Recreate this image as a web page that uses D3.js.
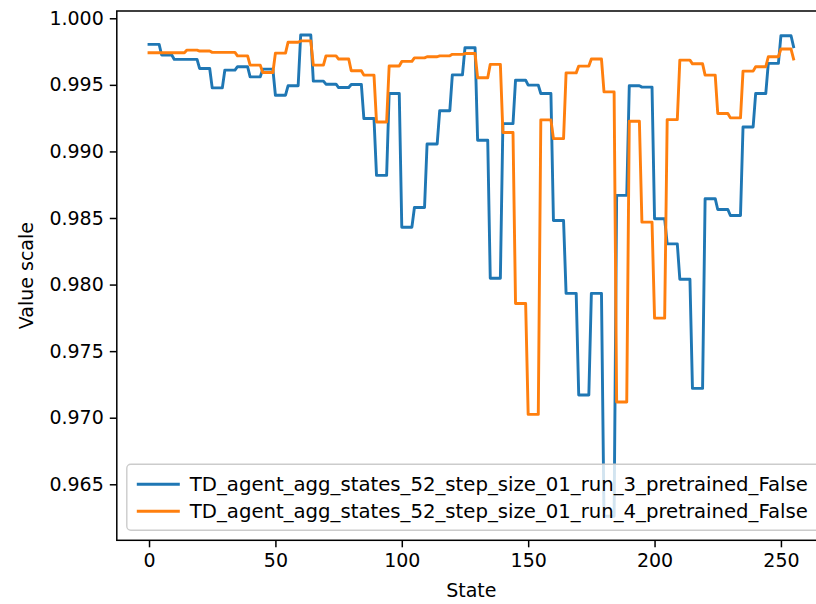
<!DOCTYPE html>
<html>
<head>
<meta charset="utf-8">
<script src="https://cdn.jsdelivr.net/npm/d3@7"></script>
<style>
  body { margin: 0; background: #fff; overflow: hidden; }
  svg text { font-family: "DejaVu Sans", sans-serif; fill: #000; }
</style>
</head>
<body>
<svg id="chart" width="816" height="604"></svg>
<script>
// Value scale per aggregated state (52 aggregated states, 5 consecutive states each; the last holds state 255 only)
const run3Values = [
  0.99804, 0.99724, 0.99691, 0.99691, 0.99623, 0.99477, 0.99611, 0.99636, 0.99560, 0.99618,
  0.99422, 0.99493, 0.99874, 0.99528, 0.99505, 0.99480, 0.99503, 0.99247, 0.98820, 0.99435,
  0.98431, 0.98579, 0.99056, 0.99306, 0.99575, 0.99779, 0.99084, 0.98047, 0.99209, 0.99535,
  0.99498, 0.99435, 0.98481, 0.97934, 0.97171, 0.97934, 0.96260, 0.98670, 0.99493, 0.99483,
  0.98494, 0.98306, 0.98040, 0.97220, 0.98645, 0.98564, 0.98519, 0.99184, 0.99435, 0.99661,
  0.99869, 0.99786
];
const run4Values = [
  0.99741, 0.99741, 0.99741, 0.99761, 0.99754, 0.99744, 0.99744, 0.99718, 0.99648, 0.99593,
  0.99738, 0.99820, 0.99830, 0.99648, 0.99718, 0.99694, 0.99606, 0.99573, 0.99221, 0.99642,
  0.99676, 0.99703, 0.99711, 0.99718, 0.99729, 0.99735, 0.99553, 0.99654, 0.99142, 0.97858,
  0.97025, 0.99237, 0.99096, 0.99590, 0.99641, 0.99694, 0.99447, 0.97118, 0.99227, 0.98469,
  0.97748, 0.99239, 0.99686, 0.99658, 0.99573, 0.99285, 0.99252, 0.99603, 0.99636, 0.99711,
  0.99769, 0.99694
];
const statesPerGroup = 5;
const stateCount = 256;
const seriesNames = [
  "TD_agent_agg_states_52_step_size_01_run_3_pretrained_False",
  "TD_agent_agg_states_52_step_size_01_run_4_pretrained_False"
];
const seriesColors = ["#1f77b4", "#ff7f0e"];
const xTicks = [0, 50, 100, 150, 200, 250];
const yTicks = [0.965, 0.970, 0.975, 0.980, 0.985, 0.990, 0.995, 1.000];

// Each state takes the value of the aggregated state it belongs to
function expand(groupValues) {
  return d3.range(stateCount).map(s => ({ state: s, value: groupValues[Math.floor(s / statesPerGroup)] }));
}
const series = [run3Values, run4Values].map((vals, i) => ({
  name: seriesNames[i], color: seriesColors[i], points: expand(vals)
}));

const svg = d3.select("#chart");
const plot = { left: 116.8, right: 825.8, top: 11, bottom: 540.3 };
const fontPx = 19;
const legendFontPx = 19.7;

// Axis limits padded by 5% of the data span
const allVals = run3Values.concat(run4Values);
const vMin = d3.min(allVals), vMax = d3.max(allVals);
const yPad = (vMax - vMin) * 0.05;
const xPad = (stateCount - 1) * 0.05;

const x = d3.scaleLinear().domain([-xPad, stateCount - 1 + xPad]).range([plot.left, plot.right]);
const y = d3.scaleLinear().domain([vMin - yPad, vMax + yPad]).range([plot.bottom, plot.top]);

svg.append("defs").append("clipPath").attr("id", "plotClip")
  .append("rect")
  .attr("x", plot.left).attr("y", plot.top)
  .attr("width", plot.right - plot.left).attr("height", plot.bottom - plot.top);

// Lines
const line = d3.line().x(d => x(d.state)).y(d => y(d.value));
const lines = svg.append("g").attr("clip-path", "url(#plotClip)");
series.forEach(s => {
  lines.append("path")
    .attr("d", line(s.points))
    .attr("fill", "none")
    .attr("stroke", s.color)
    .attr("stroke-width", 2.9)
    .attr("stroke-linejoin", "round")
    .attr("stroke-linecap", "square");
});

// Axes
const xAxis = svg.append("g")
  .attr("transform", `translate(0,${plot.bottom})`)
  .call(d3.axisBottom(x).tickValues(xTicks).tickFormat(d3.format("d")).tickSize(7).tickPadding(6).tickSizeOuter(0));
const yAxis = svg.append("g")
  .attr("transform", `translate(${plot.left},0)`)
  .call(d3.axisLeft(y).tickValues(yTicks).tickFormat(d3.format(".3f")).tickSize(7).tickPadding(6).tickSizeOuter(0));
[xAxis, yAxis].forEach(g => {
  g.select(".domain").remove();
  g.selectAll(".tick line").attr("stroke", "#000").attr("stroke-width", 1.5);
  g.selectAll(".tick text").attr("font-size", fontPx).attr("fill", "#000")
    .style("font-family", "'DejaVu Sans', sans-serif");
});

// Spines
svg.append("rect")
  .attr("x", plot.left).attr("y", plot.top)
  .attr("width", plot.right - plot.left).attr("height", plot.bottom - plot.top)
  .attr("fill", "none").attr("stroke", "#000").attr("stroke-width", 1.5);

// Axis labels
svg.append("text")
  .attr("x", (plot.left + plot.right) / 2).attr("y", 597)
  .attr("text-anchor", "middle").attr("font-size", fontPx)
  .text("State");
svg.append("text")
  .attr("transform", `translate(33,${(plot.top + plot.bottom) / 2}) rotate(-90)`)
  .attr("text-anchor", "middle").attr("font-size", fontPx)
  .text("Value scale");

// Legend
const legend = svg.append("g");
const lgX = plot.left + 10, lgBottom = plot.bottom - 10;
const rowGap = 27, lgH = 66;
legend.append("rect")
  .attr("x", lgX).attr("y", lgBottom - lgH)
  .attr("width", 720).attr("height", lgH)
  .attr("rx", 4).attr("ry", 4)
  .attr("fill", "#fff").attr("fill-opacity", 0.8)
  .attr("stroke", "#cccccc").attr("stroke-width", 1.4);
series.forEach((s, i) => {
  const cy = lgBottom - lgH + 20 + i * rowGap;
  legend.append("line")
    .attr("x1", lgX + 10).attr("x2", lgX + 53)
    .attr("y1", cy).attr("y2", cy)
    .attr("stroke", s.color).attr("stroke-width", 2.9);
  legend.append("text")
    .attr("x", lgX + 63).attr("y", cy)
    .attr("dy", "0.35em").attr("font-size", legendFontPx)
    .text(s.name);
});
</script>
</body>
</html>
